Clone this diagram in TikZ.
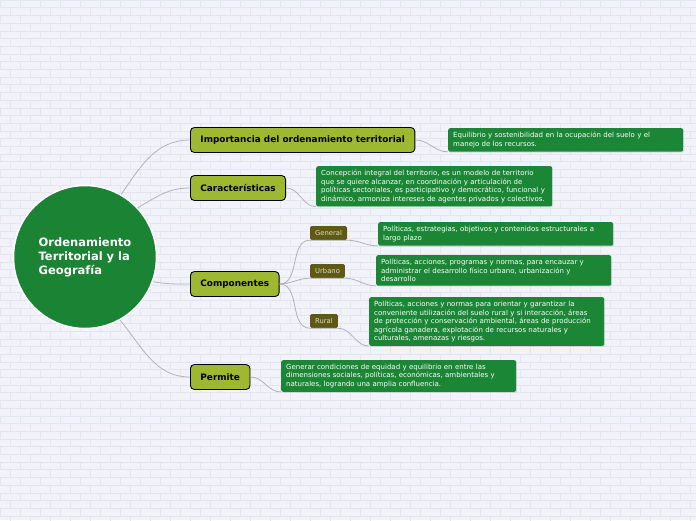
\documentclass[tikz,border=0pt]{standalone}
\usepackage{fontspec}
\setmainfont{DejaVu Sans}
\usetikzlibrary{shadows}

\definecolor{mapbg}{HTML}{F2F3FA}
\definecolor{brickline}{HTML}{E3E5F0}
\definecolor{rootgreen}{HTML}{1A8434}
\definecolor{leafgreen}{HTML}{1B8636}
\definecolor{topicolive}{HTML}{9EB832}
\definecolor{tagolive}{HTML}{5E5A15}
\definecolor{taglabel}{HTML}{E2DDB8}
\definecolor{linkgrey}{HTML}{B2B2B8}

\tikzset{
  topic/.style={draw=black, fill=topicolive, rounded corners=4pt, line width=0.9pt,
    font=\bfseries\fontsize{8.9}{10}\selectfont, anchor=west, minimum height=25pt, inner xsep=10pt},
  leaf/.style={fill=leafgreen, text=white, rounded corners=2pt, align=left, anchor=north west,
    font=\fontsize{7}{8.4}\selectfont, inner xsep=5pt, inner ysep=4pt,
    drop shadow={shadow xshift=1pt, shadow yshift=-1pt, opacity=0.2}},
  tag/.style={fill=tagolive, text=taglabel, rounded corners=1.5pt, anchor=west,
    font=\fontsize{6.8}{7}\selectfont, minimum height=14pt, inner xsep=5pt},
  link/.style={draw=linkgrey, line width=0.8pt}
}

\begin{document}
\begin{tikzpicture}[x=1pt, y=-1pt]
  \useasboundingbox (0,0) rectangle (696,520);
  % background with bricks
  \fill[mapbg] (0,0) rectangle (696,520);
  \foreach \r in {0,...,67} {
    \pgfmathsetmacro{\yy}{\r*7.7}
    \pgfmathsetmacro{\off}{mod(\r,2)*10}
    \draw[brickline, line width=0.5pt] (0,\yy) -- (696,\yy);
    \foreach \k in {0,...,35}
      \draw[brickline, line width=0.5pt] (\off+\k*20,\yy) -- (\off+\k*20,\yy+7.7);
  }

  % central topic
  \node[circle, fill=rootgreen, draw=white, line width=1.5pt, minimum size=143pt,
    text=white, align=left, font=\bfseries\fontsize{11.5}{14}\selectfont] (root) at (85,257)
    {Ordenamiento\\Territorial y la\\Geografía};

  % main topics
  \node[topic] (imp) at (190,140) {Importancia del ordenamiento territorial};
  \node[topic] (car) at (190,188) {Características};
  \node[topic] (comp) at (190,284) {Componentes};
  \node[topic] (perm) at (190,377) {Permite};

  % tags under Componentes
  \node[tag] (gen) at (310,233) {General};
  \node[tag] (urb) at (310,271) {Urbano};
  \node[tag] (rur) at (310,321) {Rural};

  % leaves
  \node[leaf, text width=225pt] (equi) at (448,128)
    {Equilibrio y sostenibilidad en la ocupación del suelo y el\\manejo de los recursos.};
  \node[leaf, text width=226pt] (conc) at (316,166)
    {Concepción integral del territorio, es un modelo de territorio\\que se quiere alcanzar, en coordinación y articulación de\\políticas sectoriales, es participativo y democrático, funcional y\\dinámico, armoniza intereses de agentes privados y colectivos.};
  \node[leaf, text width=225pt] (polgen) at (378,222)
    {Políticas, estrategias, objetivos y contenidos estructurales a\\largo plazo};
  \node[leaf, text width=225pt] (polurb) at (376,255)
    {Políticas, acciones, programas y normas, para encauzar y\\administrar el desarrollo físico urbano, urbanización y\\desarrollo};
  \node[leaf, text width=225pt] (polrur) at (369,297)
    {Políticas, acciones y normas para orientar y garantizar la\\conveniente utilización del suelo rural y si interacción, áreas\\de protección y conservación ambiental, áreas de producción\\agrícola ganadera, explotación de recursos naturales y\\culturales, amenazas y riesgos.};
  \node[leaf, text width=225pt] (gener) at (281,360)
    {Generar condiciones de equidad y equilibrio en entre las\\dimensiones sociales, políticas, económicas, ambientales y\\naturales, logrando una amplia confluencia.};

  % connectors
  \draw[link] (root.60) to[out=55, in=180] (imp.west);
  \draw[link] (root.43) to[out=30, in=180] (car.west);
  \draw[link] (root.-20) to[out=-10, in=180] (comp.west);
  \draw[link] (root.-61) to[out=-50, in=180] (perm.west);

  \draw[link] (imp.east) to[out=0, in=180] (equi.south west);
  \draw[link] (car.east) to[out=0, in=180] (conc.south west);
  \draw[link] (comp.east) to[out=0, in=180] (gen.south west) -- (gen.south east)
    to[out=0, in=180] (polgen.south west);
  \draw[link] (comp.east) to[out=0, in=180] (urb.south west) -- (urb.south east)
    to[out=0, in=180] (polurb.south west);
  \draw[link] (comp.east) to[out=0, in=180] (rur.south west) -- (rur.south east)
    to[out=0, in=180] (polrur.south west);
  \draw[link] (perm.east) to[out=0, in=180] (gener.south west);
\end{tikzpicture}
\end{document}
